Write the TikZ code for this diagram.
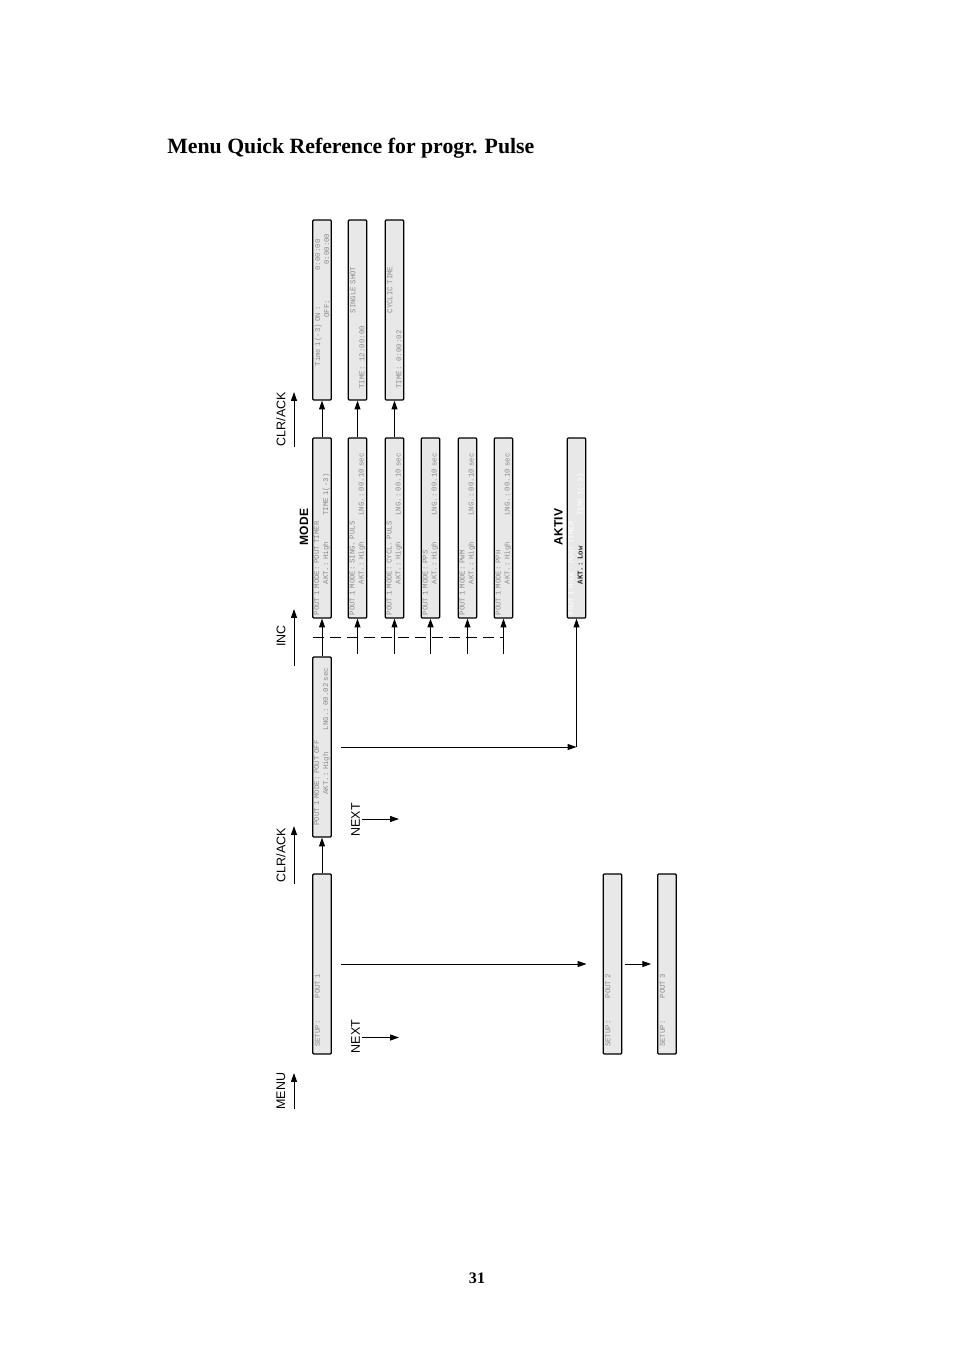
\documentclass[tikz,border=0pt]{standalone}
\usepackage{fontspec}
\setmainfont{Liberation Serif}
\setsansfont{Liberation Sans}
\setmonofont{Liberation Mono}
\usetikzlibrary{arrows.meta}
\newcommand\gap[1]{\hspace*{#1\dimexpr 0.6em\relax}}

\begin{document}
\begin{tikzpicture}[x = 0.624pt, y = -0.624pt,
    every node/.style = { inner sep = 0pt },
    screen/.style = { draw, line width = 0.8pt, fill = black!9, rounded corners = 0.6pt,
      rotate = 90, text width = 109pt, inner xsep = 1.65pt, minimum height = 11.6pt,
      align = left, text = black!45, font = \ttfamily\fontsize{4.6}{5.6}\selectfont },
    key/.style = { rotate = 90, font = \sffamily\fontsize{7.8}{9}\selectfont },
    head/.style = { rotate = 90, font = \sffamily\bfseries\fontsize{7.5}{9}\selectfont },
    arr/.style = { -{Triangle[length = 5.5pt, width = 3.7pt]}, line width = 0.6pt },
    dashline/.style = { line width = 0.6pt, dash pattern = on 6.8pt off 3.8pt }]
    \useasboundingbox (0,0) rectangle (954,1350);

    \node [anchor = base west, font = \bfseries\fontsize{13.6}{16}\selectfont] (title) at (167,154)
      { Menu Quick Reference for progr. Pulse };
    \node [anchor = base, font = \bfseries\fontsize{10}{12}\selectfont] (page) at (477,1283) { 31 };

    \node [screen] (t1) at (322,310)
      { \gap{7}Time~1(-3)~ON~:\gap{8}0:00:00\\\gap{18}OFF:\gap{8}0:00:00 };
    \node [screen] (t2) at (357.5,310) { \gap{19}SINGLE~SHOT\\\gap{2}TIME:~~12:00:00 };
    \node [screen] (t3) at (394.5,310) { \gap{19}CYCLIC~TIME\\\gap{2}TIME:~~0:00:02 };

    \node [head] (mode) at (304,527) { MODE };
    \node [screen] (mtimer) at (322,528)
      { POUT~1~MODE:~POUT~TIMER\\\gap{7}AKT.:~High\gap{6}TIME~1(-3) };
    \node [screen] (msing) at (357.5,528)
      { POUT~1~MODE:~SING.~PULS\\\gap{7}AKT.:~High\gap{6}LNG.:~00.10~sec };
    \node [screen] (mcycl) at (394.5,528)
      { POUT~1~MODE:~CYCL.~PULS\\\gap{7}AKT.:~High\gap{6}LNG.:~00.10~sec };
    \node [screen] (mpps) at (430.5,528)
      { POUT~1~MODE:~PPS\\\gap{7}AKT.:~High\gap{6}LNG.:~00.10~sec };
    \node [screen] (mpwm) at (467.5,528)
      { POUT~1~MODE:~PWM\\\gap{7}AKT.:~High\gap{6}LNG.:~00.10~sec };
    \node [screen] (mpph) at (503.5,528)
      { POUT~1~MODE:~PPH\\\gap{7}AKT.:~High\gap{6}LNG.:~00.10~sec };

    \node [head] (aktivlabel) at (558.5,527) { AKTIV };
    \node [screen, text = white] (aktiv) at (576.5,528)
      { POUT~1~MODE:~POUT~TIMER\\\gap{7}{\bfseries\color{black!85}AKT.:~Low}\gap{7}TIME~1(-3) };

    \node [screen] (poff) at (322,747)
      { \gap{2}POUT~1~MODE:~POUT~OFF\\\gap{9}AKT.:~High\gap{5}LNG.:~00.02~sec };

    \node [screen] (set1) at (322,964) { \gap{1}SETUP:\gap{5}POUT~1\\\mbox{} };
    \node [screen] (set2) at (612.5,964) { \gap{1}SETUP:\gap{5}POUT~2\\\mbox{} };
    \node [screen] (set3) at (667,964) { \gap{1}SETUP:\gap{5}POUT~3\\\mbox{} };

    \node [key] (menu) at (281,1091) { MENU };
    \node [key] (clr1) at (281,855) { CLR/ACK };
    \node [key] (inc) at (281,636) { INC };
    \node [key] (clr2) at (281,419) { CLR/ACK };
    \foreach \k/\a/\b in {menu/1109/1073, clr1/884/826, inc/666/609, clr2/447/392} {
      \coordinate (\k-a) at (294,\a);
      \coordinate (\k-b) at (294,\b);
      \draw [arr] (\k-a) -- (\k-b);
    }

    \node [key] (next1) at (355.5,1036.5) { NEXT };
    \node [key] (next2) at (355.5,820) { NEXT };
    \foreach \k/\y in {next1/1037.5, next2/819} {
      \coordinate (\k-a) at (362,\y);
      \coordinate (\k-b) at (399,\y);
      \draw [arr] (\k-a) -- (\k-b);
    }

    \draw [arr] (set1.east) -- (poff.west);
    \draw [arr] (poff.east) -- (mtimer.west);
    \draw [arr] (mtimer.east) -- (t1.west);
    \draw [arr] (msing.east) -- (t2.west);
    \draw [arr] (mcycl.east) -- (t3.west);

    \coordinate (dash-a) at (313,637);
    \coordinate (dash-b) at (503.5,637);
    \draw [dashline] (dash-a) -- (dash-b);
    \foreach \m/\w in {msing/0.6, mcycl/0.6, mpps/1.1, mpwm/0.6, mpph/0.6} {
      \coordinate (\m-in) at ([yshift = -21.8pt]\m.west);
      \draw [arr, line width = \w pt] (\m-in) -- (\m.west);
    }

    \coordinate (bend) at (aktiv.west |- poff.south);
    \draw [arr, shorten <= 5.6pt] (poff.south) -- (bend);
    \draw [arr] (bend) -- (aktiv.west);

    \draw [arr, shorten <= 5.6pt, shorten >= 10pt] (set1.south) -- (set2.north);
    \draw [arr, shorten <= 1.9pt, shorten >= 3.7pt] (set2.south) -- (set3.north);
\end{tikzpicture}
\end{document}
